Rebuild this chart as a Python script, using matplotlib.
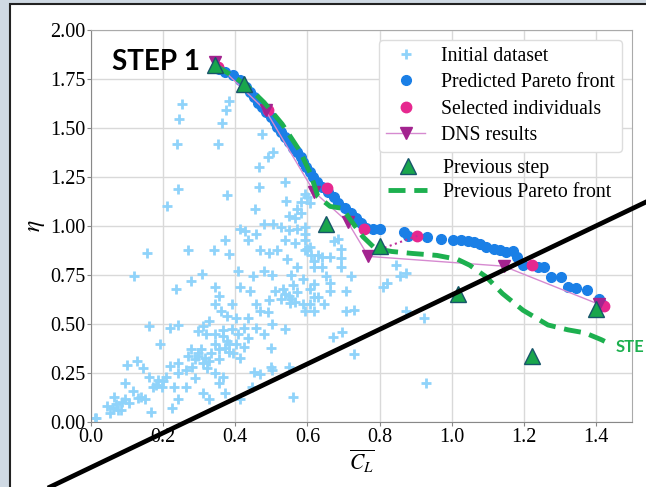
import matplotlib
matplotlib.use("Agg")
import matplotlib.pyplot as plt
from matplotlib.lines import Line2D
from matplotlib.patches import Rectangle
import numpy as np

# ---------------- data ----------------
init_x = [0.253, 0.244, 0.239, 0.242, 0.211, 0.384, 0.375, 0.363, 0.353, 0.377,
          0.474, 0.465, 0.490, 0.506, 0.466, 0.538, 0.541, 0.456, 0.594, 0.608,
          0.583, 0.566, 0.118, 0.156, 0.270, 0.235, 0.276, 0.308, 0.340, 0.344,
          0.372, 0.383, 0.407, 0.413, 0.426, 0.435, 0.458, 0.449, 0.481, 0.504,
          0.526, 0.549, 0.572, 0.594, 0.594, 0.600, 0.629, 0.617, 0.640, 0.651,
          0.685, 0.692, 0.692, 0.720, 0.708, 0.810, 0.845, 0.874, 0.822, 0.857,
          0.874, 0.922, 0.929, 0.697, 0.672, 0.729, 0.729, 0.708, 0.646, 0.617,
          0.589, 0.594, 0.552, 0.549, 0.531, 0.560, 0.555, 0.510, 0.493, 0.458,
          0.469, 0.435, 0.424, 0.407, 0.390, 0.367, 0.372, 0.383, 0.344, 0.320,
          0.310, 0.298, 0.287, 0.270, 0.241, 0.241, 0.219, 0.207, 0.185, 0.196,
          0.173, 0.150, 0.167, 0.224, 0.145, 0.128, 0.099, 0.093, 0.116, 0.093,
          0.070, 0.064, 0.054, 0.014, 0.082, 0.105, 0.162, 0.190, 0.219, 0.241,
          0.276, 0.310, 0.327, 0.355, 0.372, 0.412, 0.446, 0.452, 0.469, 0.498,
          0.503, 0.549, 0.560, 0.538, 0.503, 0.498, 0.480, 0.458, 0.435, 0.490,
          0.440, 0.412, 0.390, 0.355, 0.344, 0.361, 0.378, 0.401, 0.327, 0.298,
          0.333, 0.355, 0.327, 0.310, 0.281, 0.264, 0.287, 0.344, 0.367, 0.412,
          0.401, 0.424, 0.264, 0.230, 0.241, 0.526, 0.572, 0.606, 0.589, 0.617,
          0.572, 0.594, 0.611, 0.538, 0.566, 0.515, 0.543, 0.493, 0.469, 0.503,
          0.481, 0.549, 0.572, 0.583, 0.600, 0.555, 0.566, 0.538, 0.629, 0.606,
          0.617, 0.663, 0.663, 0.674, 0.663, 0.594, 0.606, 0.617, 0.640, 0.692,
          0.344, 0.367, 0.378, 0.355, 0.383, 0.395, 0.298, 0.315, 0.321, 0.304,
          0.010, 0.060, 0.075, 0.045, 0.085, 0.130, 0.140, 0.180, 0.200, 0.160]
init_y = [1.620, 1.545, 1.420, 1.190, 1.100, 1.640, 1.590, 1.525, 1.420, 1.160,
          1.470, 1.300, 1.350, 1.380, 1.200, 1.225, 1.130, 1.085, 1.165, 1.115,
          1.065, 1.040, 0.745, 0.860, 0.880, 0.680, 0.720, 0.755, 0.880, 0.690,
          0.930, 0.855, 0.770, 0.985, 0.975, 0.930, 0.960, 0.745, 1.010, 1.010,
          0.995, 0.980, 0.985, 0.995, 0.960, 0.885, 0.850, 0.820, 0.790, 0.745,
          0.935, 0.885, 0.790, 0.745, 0.670, 0.690, 0.800, 0.760, 0.710, 0.745,
          0.565, 0.530, 0.200, 0.460, 0.435, 0.345, 0.570, 0.565, 0.600, 0.640,
          0.600, 0.565, 0.605, 0.645, 0.680, 0.700, 0.750, 0.670, 0.620, 0.600,
          0.565, 0.530, 0.480, 0.450, 0.475, 0.440, 0.380, 0.355, 0.400, 0.450,
          0.490, 0.350, 0.320, 0.335, 0.300, 0.250, 0.285, 0.230, 0.215, 0.180,
          0.180, 0.115, 0.050, 0.070, 0.275, 0.310, 0.290, 0.200, 0.160, 0.115,
          0.090, 0.130, 0.045, 0.020, 0.060, 0.095, 0.490, 0.400, 0.480, 0.495,
          0.370, 0.150, 0.115, 0.200, 0.150, 0.115, 0.180, 0.255, 0.245, 0.280,
          0.265, 0.280, 0.130, 0.475, 0.500, 0.380, 0.450, 0.480, 0.430, 0.560,
          0.670, 0.690, 0.600, 0.645, 0.600, 0.565, 0.540, 0.530, 0.515, 0.465,
          0.350, 0.320, 0.310, 0.300, 0.280, 0.265, 0.225, 0.250, 0.230, 0.325,
          0.400, 0.385, 0.180, 0.180, 0.115, 0.630, 0.665, 0.680, 0.730, 0.705,
          0.790, 0.875, 0.850, 0.930, 0.915, 0.880, 0.830, 0.860, 0.880, 0.750,
          0.770, 1.050, 1.085, 1.120, 1.150, 0.630, 0.610, 0.655, 0.640, 0.600,
          0.565, 0.670, 0.710, 0.925, 0.840, 0.930, 0.895, 0.790, 0.840, 0.835,
          0.450, 0.470, 0.415, 0.375, 0.400, 0.350, 0.335, 0.325, 0.275, 0.370,
          0.020, 0.070, 0.060, 0.080, 0.100, 0.120, 0.130, 0.190, 0.210, 0.230]

pred_x = [0.355, 0.372, 0.395, 0.412, 0.430, 0.441, 0.452, 0.464, 0.475, 0.486,
          0.498, 0.509, 0.517, 0.526, 0.538, 0.549, 0.560, 0.572, 0.581, 0.589,
          0.597, 0.606, 0.615, 0.626, 0.640, 0.657, 0.674, 0.686, 0.703, 0.720,
          0.734, 0.748, 0.763, 0.783, 0.802, 0.868, 0.879, 0.931, 0.971, 1.005,
          1.027, 1.045, 1.062, 1.079, 1.096, 1.118, 1.135, 1.152, 1.170, 1.181,
          1.198, 1.238, 1.257, 1.275, 1.303, 1.323, 1.346, 1.375, 1.409, 1.415]
pred_y = [1.800, 1.785, 1.770, 1.745, 1.710, 1.685, 1.660, 1.630, 1.605, 1.580,
          1.555, 1.530, 1.505, 1.480, 1.455, 1.430, 1.400, 1.380, 1.350, 1.325,
          1.300, 1.275, 1.250, 1.225, 1.200, 1.175, 1.150, 1.115, 1.090, 1.065,
          1.040, 1.015, 0.990, 0.985, 0.985, 0.970, 0.950, 0.945, 0.935, 0.930,
          0.930, 0.925, 0.920, 0.910, 0.895, 0.885, 0.875, 0.865, 0.870, 0.840,
          0.800, 0.790, 0.790, 0.740, 0.740, 0.690, 0.685, 0.675, 0.630, 0.605]

sel_x = [0.352, 0.490, 0.655, 0.756, 0.905, 1.224, 1.423]
sel_y = [1.810, 1.590, 1.195, 0.985, 0.950, 0.800, 0.590]

dns_x = [0.344, 0.484, 0.618, 0.712, 0.769, 1.144, 1.409]
dns_y = [1.835, 1.590, 1.175, 1.020, 0.845, 0.795, 0.600]

link_x = [0.785, 0.905]
link_y = [0.870, 0.950]

prev_x = [0.344, 0.424, 0.652, 0.800, 1.018, 1.224, 1.400]
prev_y = [1.820, 1.725, 1.010, 0.900, 0.655, 0.335, 0.575]

front_x = [0.344, 0.380, 0.430, 0.480, 0.530, 0.580, 0.610, 0.629, 0.663, 0.697,
           0.720, 0.754, 0.788, 0.834, 0.891, 0.959, 1.016, 1.050, 1.096, 1.141,
           1.198, 1.267, 1.323, 1.369, 1.415, 1.437]
front_y = [1.820, 1.780, 1.720, 1.630, 1.520, 1.380, 1.260, 1.150, 1.100, 1.090,
           1.030, 0.945, 0.885, 0.870, 0.860, 0.850, 0.830, 0.800, 0.740, 0.655,
           0.570, 0.495, 0.470, 0.455, 0.420, 0.400]

xticks = [0.0, 0.2, 0.4, 0.6, 0.8, 1.0, 1.2, 1.4]
yticks = [0.00, 0.25, 0.50, 0.75, 1.00, 1.25, 1.50, 1.75, 2.00]

# ---------------- figure ----------------
W, H = 646, 487
plt.rcParams["font.family"] = "Liberation Serif"
plt.rcParams["mathtext.fontset"] = "stix"

fig = plt.figure(figsize=(W / 100, H / 100), dpi=100)
fig.patch.set_facecolor("#cfd9e3")
bg = Rectangle((10 / W, -0.01), 1.0, 1.01 - 4 / H, transform=fig.transFigure,
               facecolor="white", edgecolor="#222222", linewidth=1.5, zorder=-10)
fig.add_artist(bg)

ax = fig.add_axes([91 / W, 1 - 422 / H, (632 - 91) / W, (422 - 30) / H])
ax.set_facecolor("white")
ax.set_xlim(0, 1.5)
ax.set_ylim(0, 2.0)
ax.set_xticks(xticks)
ax.set_xticklabels([f"{v:.1f}" for v in xticks])
ax.set_yticks(yticks)
ax.set_yticklabels([f"{v:.2f}" for v in yticks])
ax.tick_params(labelsize=14.5, length=3, color="#888888", pad=1)
ax.grid(True, color="#d9d9d9", linewidth=1.0)
ax.set_axisbelow(True)
for s in ax.spines.values():
    s.set_color("#aaaaaa")
ax.spines["left"].set_color("#888888")
ax.spines["bottom"].set_color("#888888")
ax.set_xlabel(r"$\overline{C_L}$", fontsize=15.5, labelpad=1)
ax.set_ylabel(r"$\eta$", fontsize=17, labelpad=2)

h1, = ax.plot(init_x, init_y, "+", color="#8fd3fa", markersize=7, markeredgewidth=2,
              linestyle="none", label="Initial dataset", zorder=2)
h2, = ax.plot(pred_x, pred_y, "o", color="#1a7fe6", markersize=7, linestyle="none",
              label="Predicted Pareto front", zorder=3)
h3, = ax.plot(sel_x, sel_y, "o", color="#e6288f", markersize=7.5, linestyle="none",
              label="Selected individuals", zorder=4)
ax.plot(link_x, link_y, ":", color="#c0309a", linewidth=1.5, zorder=4)
h4, = ax.plot(dns_x, dns_y, "-v", color="#d68ad0", linewidth=1.0, markersize=9,
              markerfacecolor="#a3238f", markeredgecolor="#a3238f",
              label="DNS results", zorder=5)
h6, = ax.plot(front_x, front_y, "--", color="#1db04f", linewidth=3.5,
              dashes=(3.5, 1.8), label="Previous Pareto front", zorder=6,
              clip_on=False)
h5, = ax.plot(prev_x, prev_y, "^", color="#19a64c", markersize=11,
              markeredgecolor="#17556a", markeredgewidth=1.0, linestyle="none",
              label="Previous step", zorder=7)

leg1 = ax.legend(handles=[h1, h2, h3, h4], loc="upper right",
                 bbox_to_anchor=(0.9815, 0.9745), borderaxespad=0, fontsize=14.2,
                 labelspacing=0.38, framealpha=1, edgecolor="#dddddd",
                 handletextpad=0.8, borderpad=0.35)
ax.add_artist(leg1)
ax.legend(handles=[h5, h6], loc="upper left", bbox_to_anchor=(0.536, 0.689),
          borderaxespad=0, fontsize=14.2, labelspacing=0.25, frameon=False,
          handletextpad=0.8, borderpad=0.35)

# slide annotations
fig.text(112 / W, 1 - 62 / H, "STEP 1", fontsize=20, fontweight="bold",
         family="Lato", color="black", va="center", ha="left", zorder=11)
fig.text(616 / W, 1 - 347 / H, "STE", fontsize=12, fontweight="bold",
         family="Lato", color="#1db04f", va="center", ha="left", zorder=11)
fig.add_artist(Line2D([50 / W, 1.0], [1 - 487 / H, 1 - 202 / H],
                      transform=fig.transFigure, color="black", linewidth=3.4,
                      zorder=10))

fig.savefig("out.png", dpi=100, facecolor=fig.get_facecolor())
